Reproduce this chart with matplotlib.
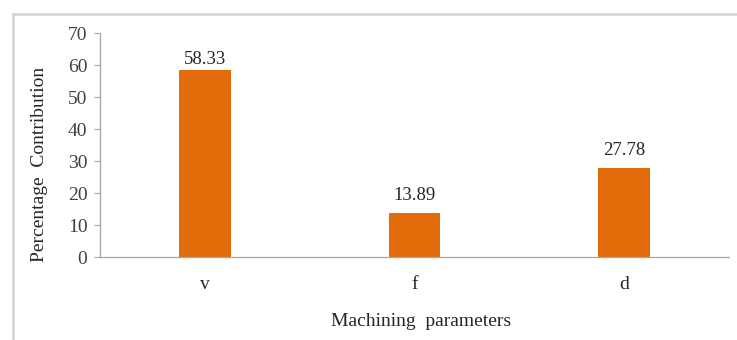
import matplotlib.pyplot as plt
from matplotlib.lines import Line2D

params = ['v', 'f', 'd']
contribution = [58.33, 13.89, 27.78]
yticks = [0, 10, 20, 30, 40, 50, 60, 70]

plt.rcParams['font.family'] = ['Liberation Serif', 'DejaVu Serif']

W, H = 737, 340
fig = plt.figure(figsize=(W / 100, H / 100), dpi=100)
ax = fig.add_axes([100 / W, 1 - 257 / H, 629 / W, 224 / H])

x = range(len(params))
bars = ax.bar(x, contribution, width=0.245, color='#E36C0A', zorder=2)
for b, v in zip(bars, contribution):
    # labels sit above the bar, kept inside the plot area
    ax.text(b.get_x() + b.get_width() / 2, min(v + 5.4, 61.8), f'{v:.2f}',
            ha='center', va='center', fontsize=13.5, color='#262626')

ax.set_xlim(-0.5, len(params) - 0.5)
ax.set_ylim(0, 70)
ax.set_yticks(yticks)
ax.set_xticks(list(x))
ax.set_xticklabels(params)
ax.tick_params(axis='y', length=4, width=0.8, color='#a6a6a6',
               labelsize=14, labelcolor='#404040', pad=5)
ax.tick_params(axis='x', length=0, labelsize=14, labelcolor='#262626', pad=14)

for side in ['top', 'right']:
    ax.spines[side].set_visible(False)
for side in ['left', 'bottom']:
    ax.spines[side].set_color('#a6a6a6')
    ax.spines[side].set_linewidth(0.9)

fig.text(40 / W, 1 - 164 / H, 'Percentage  Contribution', rotation=90,
         ha='center', va='center', fontsize=14, color='#262626')
fig.text(421 / W, 1 - 322 / H, 'Machining  parameters',
         ha='center', va='center', fontsize=14, color='#262626')

# chart frame, only top and left edges fall inside the image
fig.add_artist(Line2D([13 / W, 1], [1 - 14 / H, 1 - 14 / H],
                      transform=fig.transFigure, color='#d4d4d4', lw=1.8))
fig.add_artist(Line2D([13 / W, 13 / W], [0, 1 - 14 / H],
                      transform=fig.transFigure, color='#d4d4d4', lw=1.8))

fig.savefig('out.png', dpi=100)
